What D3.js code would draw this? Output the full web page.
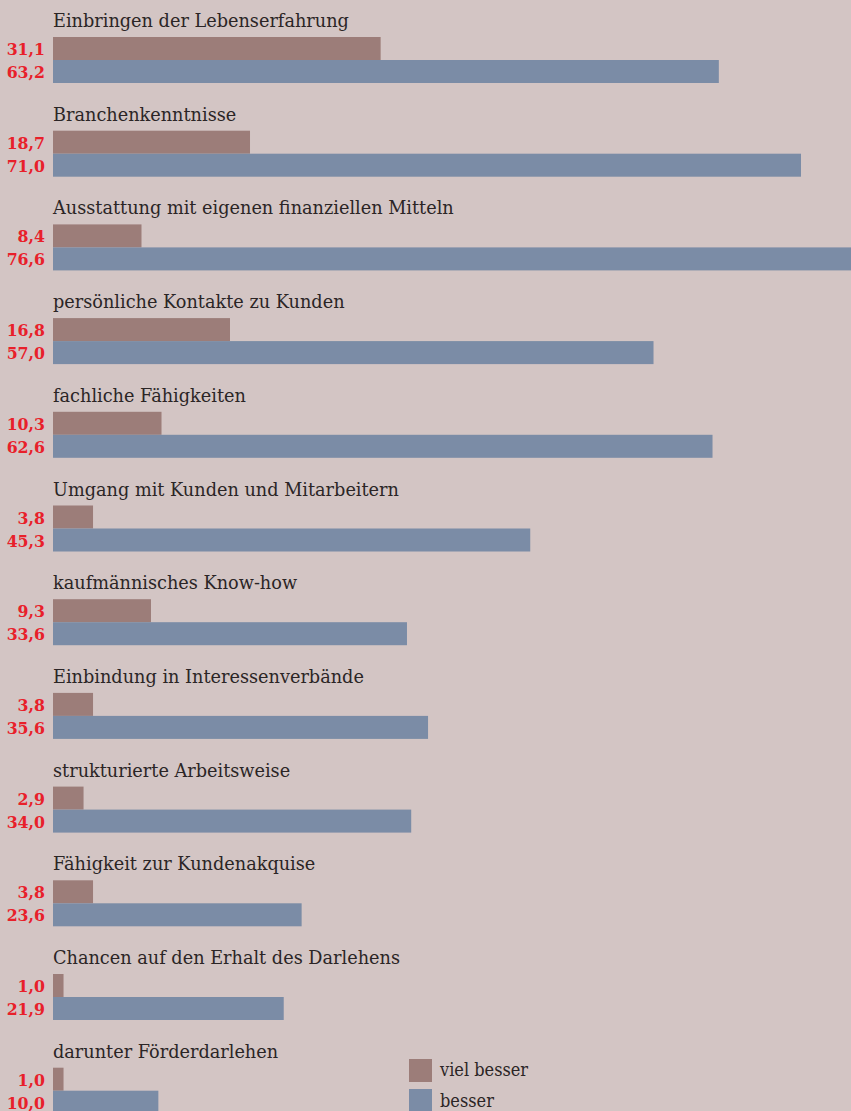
<!DOCTYPE html>
<html>
<head>
<meta charset="utf-8">
<script src="https://cdn.jsdelivr.net/npm/d3@7"></script>
<style>
  body { margin: 0; background: #d3c5c4; }
  svg { display: block; }
  .cat { font-family: "DejaVu Serif", serif; font-size: 17.7px; fill: #2b2526; }
  .val { font-family: "DejaVu Serif Condensed", "DejaVu Serif", serif; font-stretch: condensed; font-weight: bold; font-size: 17.5px; fill: #e8202a; }
  .leg { font-family: "DejaVu Serif Condensed", "DejaVu Serif", serif; font-stretch: condensed; font-size: 18px; fill: #2b2526; }
</style>
</head>
<body>
<div id="chart"></div>
<script>
var categories = [
    "Einbringen der Lebenserfahrung",
    "Branchenkenntnisse",
    "Ausstattung mit eigenen finanziellen Mitteln",
    "persönliche Kontakte zu Kunden",
    "fachliche Fähigkeiten",
    "Umgang mit Kunden und Mitarbeitern",
    "kaufmännisches Know-how",
    "Einbindung in Interessenverbände",
    "strukturierte Arbeitsweise",
    "Fähigkeit zur Kundenakquise",
    "Chancen auf den Erhalt des Darlehens",
    "darunter Förderdarlehen"
];
var vielBesser = [31.1, 18.7, 8.4, 16.8, 10.3, 3.8, 9.3, 3.8, 2.9, 3.8, 1.0, 1.0];
var besser = [63.2, 71.0, 76.6, 57.0, 62.6, 45.3, 33.6, 35.6, 34.0, 23.6, 21.9, 10.0];
var seriesNames = ["viel besser", "besser"];

function init() {
    var w = 851;
    var h = 1111;
    var barH = 23;
    var colors = ["#9c7d79", "#7b8ca6"];

    var svg = d3.select("#chart")
        .append("svg")
        .attr("width", w)
        .attr("height", h);

    svg.append("rect")
        .attr("width", w)
        .attr("height", h)
        .attr("fill", "#d3c5c4");

    var xScale = d3.scaleLinear()
        .domain([0, 76.6])
        .range([53, 860]);

    var yScale = d3.scaleBand()
        .domain(categories)
        .range([27, 27 + 12 * 93.7]);

    var fmt = d3.formatLocale({ decimal: ",", thousands: ".", grouping: [3], currency: ["", " €"] }).format(".1f");

    var rows = svg.selectAll("g.row")
        .data(categories)
        .enter()
        .append("g")
        .attr("class", "row")
        .attr("transform", function(d) { return "translate(0," + yScale(d) + ")"; });

    rows.append("text")
        .attr("class", "cat")
        .attr("x", 53)
        .attr("y", 0)
        .text(function(d) { return d; });

    // two bars per row
    [vielBesser, besser].forEach(function(series, s) {
        rows.append("rect")
            .attr("x", xScale(0))
            .attr("y", 10 + s * barH)
            .attr("width", function(d, i) { return xScale(series[i]) - xScale(0); })
            .attr("height", barH)
            .attr("fill", colors[s]);

        rows.append("text")
            .attr("class", "val")
            .attr("x", 45)
            .attr("y", 10 + s * barH + 18)
            .attr("text-anchor", "end")
            .text(function(d, i) { return fmt(series[i]); });
    });

    // legend
    var legend = svg.append("g")
        .attr("transform", "translate(409,1059)");

    legend.selectAll("rect")
        .data(seriesNames)
        .enter()
        .append("rect")
        .attr("x", 0)
        .attr("y", function(d, i) { return i * 30; })
        .attr("width", 23)
        .attr("height", 23)
        .attr("fill", function(d, i) { return colors[i]; });

    legend.selectAll("text")
        .data(seriesNames)
        .enter()
        .append("text")
        .attr("class", "leg")
        .attr("x", 31)
        .attr("y", function(d, i) { return 17 + i * 31; })
        .text(function(d) { return d; });
}
window.onload = init;
</script>
</body>
</html>
